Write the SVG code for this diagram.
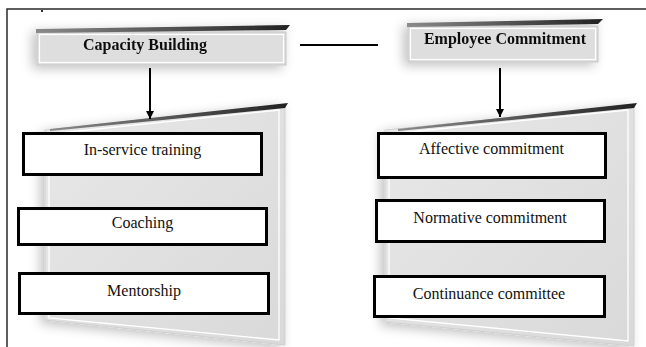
<svg xmlns="http://www.w3.org/2000/svg" width="646" height="347" viewBox="0 0 646 347">
  <style>
    .frame { fill: none; stroke: #2a2a2a; stroke-width: 1.5; }
    .head-box { fill: #dedede; stroke: #c4c4c4; stroke-width: 1; }
    .head-inner { fill: none; stroke: #ffffff; stroke-width: 1.2; }
    .head-text { font-family: "Liberation Serif", "Times New Roman", serif; font-size: 16px; font-weight: bold; fill: #111; text-anchor: middle; }
    .panel { fill: url(#panelFill); stroke: #cfcfcf; stroke-width: 1; }
    .panel-inner { fill: none; stroke: #ffffff; stroke-width: 1.3; }
    .item { fill: #ffffff; stroke: #000000; stroke-width: 3; }
    .item-text { font-family: "Liberation Serif", "Times New Roman", serif; font-size: 16px; fill: #111; text-anchor: middle; }
    .link { fill: none; stroke: #000000; stroke-width: 2; }
  </style>
  <defs>
    <filter id="soft" x="-20%" y="-40%" width="140%" height="180%">
      <feGaussianBlur in="SourceAlpha" stdDeviation="6"/>
      <feOffset dx="-4" dy="3" result="blur"/>
      <feComponentTransfer>
        <feFuncA type="linear" slope="0.25"/>
      </feComponentTransfer>
      <feMerge>
        <feMergeNode/>
        <feMergeNode in="SourceGraphic"/>
      </feMerge>
    </filter>
    <linearGradient id="panelFill" x1="0" y1="0" x2="1" y2="1">
      <stop offset="0" stop-color="#e8e8e8"/>
      <stop offset="1" stop-color="#d9d9d9"/>
    </linearGradient>
    <linearGradient id="lid" x1="0" y1="0" x2="1" y2="0">
      <stop offset="0" stop-color="#8a8a8a"/>
      <stop offset="1" stop-color="#222222"/>
    </linearGradient>
    <marker id="arrow" viewBox="0 0 8 8" refX="8" refY="4" markerWidth="8" markerHeight="8" markerUnits="userSpaceOnUse" orient="auto">
      <path d="M0,0 L8,4 L0,8 z" fill="#000"/>
    </marker>
  </defs>

  <!-- page frame -->
  <path class="frame" d="M7,347 V9 H646"/>
  <rect x="41" y="10" width="2" height="2" fill="#333"/>

  <!-- left panel -->
  <g id="panel-capacity" filter="url(#soft)">
    <polygon class="panel" points="45,130 285,105 285,345 45,320"/>
    <polygon class="panel-inner" points="49,134 279,110 279,340 49,318"/>
    <polygon points="50,129 288,103 285,108 50,131" fill="url(#lid)"/>
  </g>

  <!-- right panel -->
  <g id="panel-commitment" filter="url(#soft)">
    <polygon class="panel" points="385,130 634,105 634,346 385,322"/>
    <polygon class="panel-inner" points="389,134 628,110 628,341 389,318"/>
    <polygon points="398,129 637,103 634,108 398,131" fill="url(#lid)"/>
  </g>

  <!-- header: Capacity Building -->
  <g id="capacity-building" filter="url(#soft)">
    <rect class="head-box" x="37" y="32" width="249" height="33"/>
    <rect class="head-inner" x="39.5" y="34.5" width="244" height="28"/>
    <polygon points="36,29 290,25 286,30 36,33" fill="url(#lid)"/>
    <text class="head-text" x="145" y="50">Capacity Building</text>
  </g>

  <!-- header: Employee Commitment -->
  <g id="employee-commitment" filter="url(#soft)">
    <rect class="head-box" x="408" y="26" width="190" height="36"/>
    <rect class="head-inner" x="410.5" y="28.5" width="185" height="31"/>
    <polygon points="407,23 603,19 598,24 407,27" fill="url(#lid)"/>
    <text class="head-text" x="505" y="44">Employee Commitment</text>
  </g>

  <!-- capacity building items -->
  <g id="in-service-training">
    <rect class="item" x="23.5" y="133.5" width="238" height="41"/>
    <text class="item-text" x="142.5" y="155">In-service training</text>
  </g>
  <g id="coaching">
    <rect class="item" x="18.5" y="208.5" width="248" height="36"/>
    <text class="item-text" x="142.5" y="228">Coaching</text>
  </g>
  <g id="mentorship">
    <rect class="item" x="19.5" y="273.5" width="249" height="40"/>
    <text class="item-text" x="144" y="296">Mentorship</text>
  </g>

  <!-- commitment items -->
  <g id="affective-commitment">
    <rect class="item" x="378.5" y="133.5" width="227" height="44"/>
    <text class="item-text" x="491.5" y="154">Affective commitment</text>
  </g>
  <g id="normative-commitment">
    <rect class="item" x="376.5" y="200.5" width="228" height="41"/>
    <text class="item-text" x="490" y="223">Normative commitment</text>
  </g>
  <g id="continuance-committee">
    <rect class="item" x="374.5" y="276.5" width="230" height="40"/>
    <text class="item-text" x="489" y="299">Continuance committee</text>
  </g>

  <!-- connectors -->
  <g id="connectors">
    <line class="link" x1="300" y1="45" x2="378" y2="45"/>
    <line class="link" x1="150" y1="68" x2="150" y2="119" marker-end="url(#arrow)"/>
    <line class="link" x1="500" y1="68" x2="500" y2="117" marker-end="url(#arrow)"/>
  </g>
</svg>
